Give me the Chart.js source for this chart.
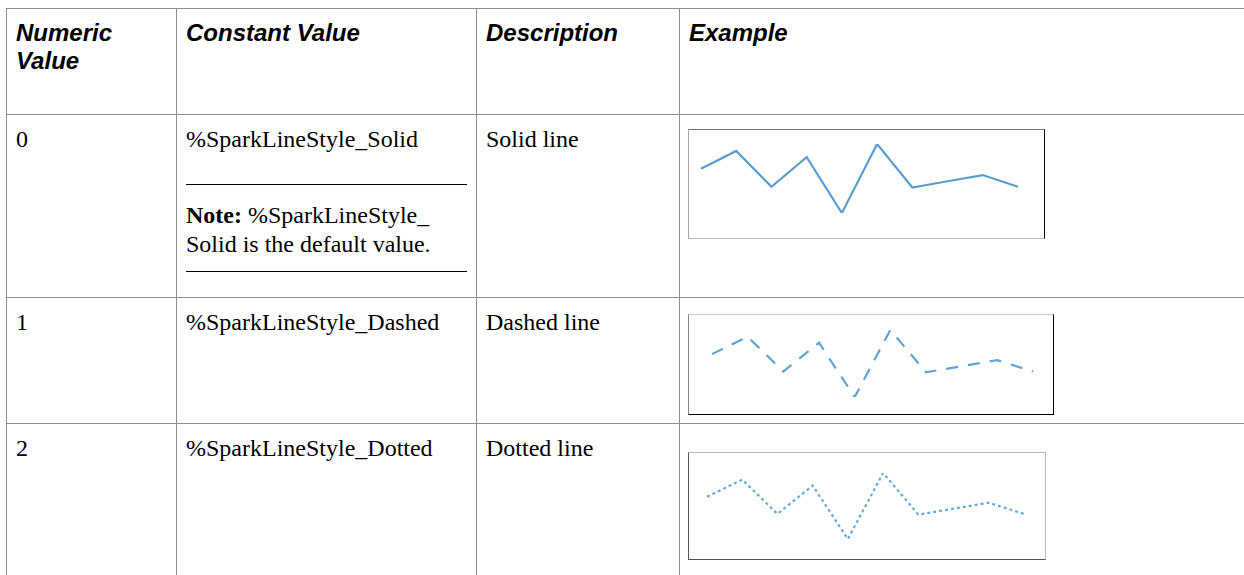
<!DOCTYPE html>
<html>
<head>
<meta charset="utf-8">
<script src="https://cdn.jsdelivr.net/npm/chart.js@4/dist/chart.umd.min.js"></script>
<style>
  html, body { margin: 0; padding: 0; background: #fff; width: 1244px; height: 575px; overflow: hidden; }
  table {
    position: absolute; left: 6px; top: 8px;
    border-collapse: collapse; table-layout: fixed; width: 1373px;
    font-family: "Liberation Serif", "Times New Roman", serif; font-size: 24px; line-height: 29px; color: #000;
  }
  td, th { border: 1px solid #8e8e8e; vertical-align: top; text-align: left; padding: 10px 9px 0 9px; }
  th {
    font-family: "Liberation Sans", Arial, sans-serif; font-weight: bold; font-style: italic;
    line-height: 28px; padding-top: 10px;
  }
  .note { border-top: 1px solid #000; border-bottom: 1px solid #000; margin-top: 30px; padding: 16px 0 12px 0; }
  .box { position: relative; margin-left: -1px; }
  .box canvas { display: block; }
</style>
</head>
<body>
<table>
  <colgroup><col style="width:170px"><col style="width:300px"><col style="width:203px"><col style="width:700px"></colgroup>
  <thead>
    <tr style="height:106px">
      <th id="h0"></th><th id="h1"></th><th id="h2"></th><th id="h3"></th>
    </tr>
  </thead>
  <tbody>
    <tr style="height:183px">
      <td id="n0"></td>
      <td><span id="k0"></span>
        <div class="note"><b>Note:</b> %SparkLineStyle_<br>Solid is the default value.</div>
      </td>
      <td id="d0"></td>
      <td><div class="box" id="b0"><canvas id="s0"></canvas></div></td>
    </tr>
    <tr style="height:126px">
      <td id="n1"></td><td id="k1"></td><td id="d1"></td>
      <td><div class="box" id="b1"><canvas id="s1"></canvas></div></td>
    </tr>
    <tr style="height:200px">
      <td id="n2"></td><td id="k2"></td><td id="d2"></td>
      <td><div class="box" id="b2"><canvas id="s2"></canvas></div></td>
    </tr>
  </tbody>
</table>
<script>
// Table text
const headers = ["Numeric<br>Value", "Constant Value", "Description", "Example"];
const numericValues = ["0", "1", "2"];
const constantValues = ["%SparkLineStyle_Solid", "%SparkLineStyle_Dashed", "%SparkLineStyle_Dotted"];
const descriptions = ["Solid line", "Dashed line", "Dotted line"];

// Sparkline data (same series in all three examples)
const sparkLabels = ["1", "2", "3", "4", "5", "6", "7", "8", "9", "10"];
const sparkValues = [6.4, 9.0, 3.8, 8.1, 0, 10, 3.7, 4.6, 5.5, 3.8];
const sparkDashes = [[], [12, 10], [3, 3]];
const sparkColors = ["#5a9fcf", "#62a5d4", "#6aaad8"];

const $ = (id) => document.getElementById(id);
headers.forEach((h, i) => { $("h" + i).innerHTML = h; });
numericValues.forEach((v, i) => { $("n" + i).textContent = v; });
constantValues.forEach((v, i) => { $("k" + i).textContent = v; });
descriptions.forEach((v, i) => { $("d" + i).textContent = v; });

// Box geometry of each example picture: size, offset in cell, border colours, chart padding
const boxes = [
  { w: 357, h: 110, top: 4, border: ["#777", "#000", "#bbb", "#aaa"], pad: { left: 12, right: 26, top: 14, bottom: 25 } },
  { w: 366, h: 101, top: 6, border: ["#ccc", "#000", "#000", "#888"], pad: { left: 23, right: 20, top: 15, bottom: 17 } },
  { w: 358, h: 108, top: 18, border: ["#bbb", "#bbb", "#555", "#555"], pad: { left: 18, right: 21, top: 20, bottom: 20 } },
];

boxes.forEach((b, i) => {
  const box = $("b" + i);
  box.style.width = b.w + "px";
  box.style.height = b.h + "px";
  box.style.marginTop = b.top + "px";
  box.style.boxSizing = "border-box";
  box.style.borderStyle = "solid";
  box.style.borderWidth = "1px";
  box.style.borderColor = b.border.join(" ");
  const cv = $("s" + i);
  cv.width = b.w - 2;
  cv.height = b.h - 2;
  new Chart(cv.getContext("2d"), {
    type: "line",
    data: {
      labels: sparkLabels,
      datasets: [{
        data: sparkValues,
        borderColor: sparkColors[i],
        borderWidth: 2.2,
        borderDash: sparkDashes[i],
        pointRadius: 0,
        tension: 0,
        fill: false,
      }],
    },
    options: {
      responsive: false,
      animation: false,
      events: [],
      layout: { padding: b.pad },
      plugins: { legend: { display: false }, tooltip: { enabled: false } },
      scales: {
        x: { display: false },
        y: { display: false, min: 0, max: 10 },
      },
    },
  });
});
</script>
</body>
</html>
